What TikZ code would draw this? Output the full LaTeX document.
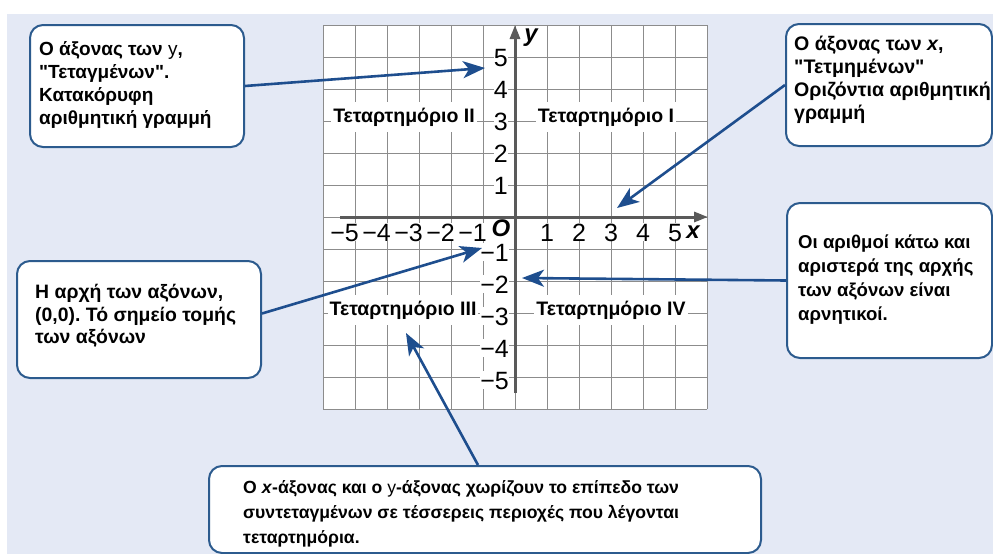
\documentclass[tikz,border=0pt]{standalone}
\usepackage{fontspec}
\setmainfont{Liberation Sans}[Ligatures=TeXOff]
\usetikzlibrary{arrows.meta}
\definecolor{panel}{HTML}{E4E9F5}
\definecolor{boxblue}{HTML}{2C5B8E}
\definecolor{arrowblue}{HTML}{1E4E8E}
\definecolor{gridgray}{HTML}{8C8C8C}
\definecolor{axisgray}{HTML}{5A5A5A}
\frenchspacing
\begin{document}
\begin{tikzpicture}[x=1pt,y=-1pt,
  callout/.style={draw=boxblue, line width=2pt, rounded corners=13pt, fill=white,
    anchor=north west, inner sep=0pt},
  ctext/.style={anchor=west, align=left, inner sep=0pt},
  pointer/.style={draw=arrowblue, line width=2.6pt,
    -{Stealth[length=22pt,width=17pt,inset=6pt]}},
  quad/.style={font=\bfseries\fontsize{19.5}{22}\selectfont, fill=white, inner xsep=2pt, inner ysep=6pt},
  num/.style={font=\fontsize{25}{25}\selectfont, fill=white, inner sep=0pt, text height=18pt, text depth=0pt},
  gridline/.style={draw=gridgray, line width=1pt},
  axisline/.style={draw=axisgray, line width=3pt, -{Triangle[length=14pt,width=10pt]}},
  axlabel/.style={font=\bfseries\itshape\fontsize{24}{24}\selectfont, inner sep=0pt},
]
\useasboundingbox (0,0) rectangle (993,554);
\fill[white] (0,0) rectangle (993,554);
\fill[panel] (7,14) rectangle (993,554);

% grid
\fill[white] (323,25) rectangle (707,409);
\foreach \i in {0,...,12}{
  \draw[gridline] (323+32*\i,25) -- (323+32*\i,409);
  \draw[gridline] (323,25+32*\i) -- (707,25+32*\i);
}
% quadrant labels
\node[quad] (q2) at (404,117) {Τεταρτημόριο II};
\node[quad] (q1) at (606,117) {Τεταρτημόριο I};
\node[quad] (q3) at (403,310) {Τεταρτημόριο III};
\node[quad] (q4) at (611,310) {Τεταρτημόριο IV};

% axes
\coordinate (xs) at (340,217);
\coordinate (xe) at (708,217);
\coordinate (ys) at (515,393);
\coordinate (ye) at (515,25);
\draw[axisline] (xs) -- (xe);
\draw[axisline] (ys) -- (ye);

% numbers
\foreach \k in {1,...,5}{
  \node[num, anchor=east] (yp\k) at (508,217-32*\k) {\k};
  \node[num, anchor=east] (yn\k) at (509,220+32*\k) {−\k};
  \node[num] (xp\k) at (515+32*\k,232) {\k};
  \node[num, anchor=east] (xn\k) at (519-32*\k,232) {−\k};
}
\node[axlabel, text height=16pt, text depth=0pt] (O) at (501,228) {O};
\node[axlabel] (ylab) at (531,38) {y};
\node[axlabel] (xlab) at (693,232) {x};

% callout boxes
\node[callout, minimum width=214pt, minimum height=122pt] (b1) at (29,24) {};
\node[callout, minimum width=206pt, minimum height=122pt] (b2) at (785,23) {};
\node[callout, minimum width=244pt, minimum height=117pt] (b3) at (16,260) {};
\node[callout, minimum width=205pt, minimum height=155pt] (b4) at (786,202) {};
\node[callout, minimum width=552pt, minimum height=87pt] (b5) at (208,465) {};

% callout texts
\node[ctext, font=\bfseries\fontsize{19}{23}\selectfont] (b1t) at (39,85)
  {Ο άξονας των {\mdseries y},\\"Τεταγμένων".\\Κατακόρυφη\\αριθμητική γραμμή};
\node[ctext, font=\bfseries\fontsize{19.6}{23}\selectfont] (b2t) at (794,80)
  {Ο άξονας των \textit{x},\\"Τετμημένων"\\Οριζόντια αριθμητική\\γραμμή};
\node[ctext, font=\bfseries\fontsize{19.4}{22.5}\selectfont] (b3t) at (35,316)
  {Η αρχή των αξόνων,\\(0,0). Τό σημείο τομής\\των αξόνων};
\node[ctext, font=\bfseries\fontsize{18.6}{24}\selectfont] (b4t) at (798,280)
  {Οι αριθμοί κάτω και\\αριστερά της αρχής\\των αξόνων είναι\\αρνητικοί.};
\node[ctext, font=\bfseries\fontsize{17.6}{25}\selectfont] (b5t) at (243,514)
  {Ο \textit{x}-άξονας και ο {\mdseries y}-άξονας χωρίζουν το επίπεδο των\\συντεταγμένων σε τέσσερεις περιοχές που λέγονται\\τεταρτημόρια.};

% pointers
\coordinate (t1) at (485,68);
\coordinate (t2) at (617,208);
\coordinate (t3) at (482,248);
\coordinate (t4) at (522,278);
\coordinate (t5) at (406,333);
\draw[pointer] (b1.east) -- (t1);
\draw[pointer] (b2.west) -- (t2);
\draw[pointer] ([yshift=6pt]b3.east) -- (t3);
\draw[pointer] (b4.west) -- (t4);
\draw[pointer] ([xshift=-7pt]b5.north) -- (t5);
\end{tikzpicture}
\end{document}
